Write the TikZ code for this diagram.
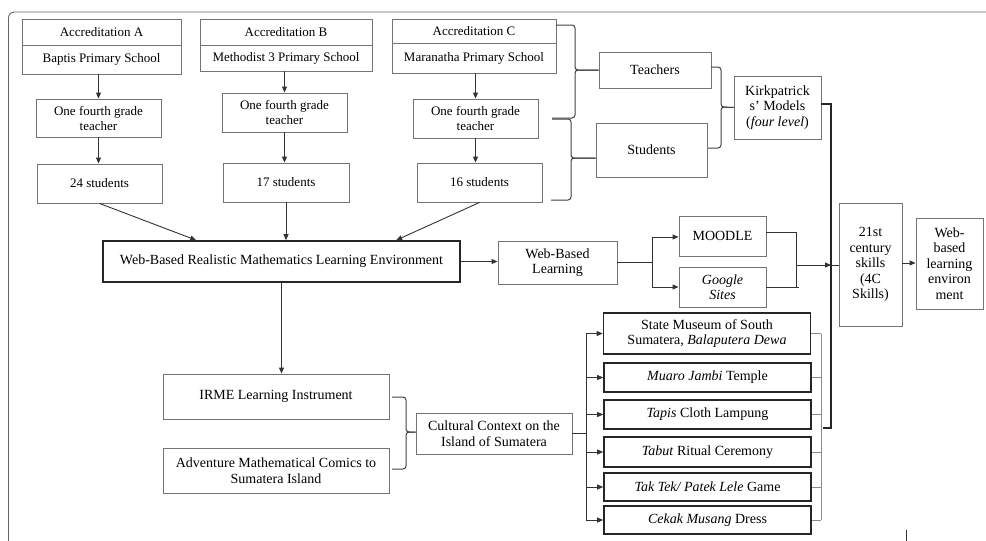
\documentclass[tikz,border=0pt]{standalone}
\usepackage{fontspec}
\setmainfont{Liberation Serif}
\usetikzlibrary{arrows.meta,calc}
\begin{document}
\begin{tikzpicture}[x=1pt,y=-1pt,
  every node/.style={font=\fontsize{14}{15.5}\selectfont, text=black},
  bx/.style={draw=black!55, line width=0.9pt, inner sep=0pt, align=center},
  small/.style={font=\fontsize{13}{15}\selectfont},
  thk/.style={draw=black!85, line width=1.6pt, inner sep=0pt, align=center},
  arr/.style={draw=black!80, line width=0.9pt, -{Triangle[length=6pt,width=5pt]}},
  ln/.style={draw=black!80, line width=0.9pt},
  gln/.style={draw=black!45, line width=0.9pt},
  brc/.style={draw=black!75, line width=1pt, rounded corners=3pt}]
\useasboundingbox (0,0) rectangle (986,541);
% frame
\draw[black!60, line width=0.9pt, rounded corners=6pt] (8.5,541) -- (8.5,12) -- (986,12);
\coordinate (tickA) at (906,530);
\coordinate (tickB) at (906,541);
\draw[black!80, line width=0.8pt] (tickA) -- (tickB);
% accreditation columns
\node[bx, small, minimum width=159, minimum height=26] (accAt) at (101.5,32) {Accreditation A};
\node[bx, small, minimum width=159, minimum height=29] (accAb) at (101.5,59.5) {Baptis Primary School};
\node[bx, small, minimum width=172, minimum height=26] (accBt) at (286,32) {Accreditation B};
\node[bx, small, minimum width=172, minimum height=26] (accBb) at (286,58) {Methodist 3 Primary School};
\node[bx, small, minimum width=164, minimum height=24] (accCt) at (474,31) {Accreditation C};
\node[bx, small, minimum width=164, minimum height=30] (accCb) at (474,58) {Maranatha Primary School};
\node[bx, small, minimum width=125, minimum height=38] (teachA) at (98.5,118) {One fourth grade\\teacher};
\node[bx, small, minimum width=125, minimum height=39] (teachB) at (284.5,112.5) {One fourth grade\\teacher};
\node[bx, small, minimum width=125, minimum height=39] (teachC) at (475.5,118.5) {One fourth grade\\teacher};
\node[bx, small, minimum width=125, minimum height=39] (studA) at (99.5,183.5) {24 students};
\node[bx, small, minimum width=126, minimum height=39] (studB) at (286,182.5) {17 students};
\node[bx, small, minimum width=125, minimum height=39] (studC) at (479.5,182.5) {16 students};
\draw[arr] (teachA.north |- accAb.south) -- (teachA.north);
\draw[arr] (teachB.north |- accBb.south) -- (teachB.north);
\draw[arr] (teachC.north |- accCb.south) -- (teachC.north);
\draw[arr] (teachA.south) -- (teachA.south |- studA.north);
\draw[arr] (teachB.south) -- (teachB.south |- studB.north);
\draw[arr] (teachC.south) -- (teachC.south |- studC.north);
% teachers / students / Kirkpatrick
\node[bx, minimum width=112, minimum height=36] (teachers) at (655,70) {Teachers};
\node[bx, minimum width=111, minimum height=54] (students) at (651.5,150) {Students};
\node[bx, minimum width=87, minimum height=63] (kirk) at (777.5,107.5) {Kirkpatrick\\s’ Models\\(\textit{four level})};
\coordinate (b1t) at (556,25);
\coordinate (b1b) at (552,118);
\draw[brc] (b1t) -- (575,25) -- (575,70) -- (teachers.west);
\draw[brc] (teachers.west) -- (575,70) -- (575,118) -- (b1b);
\coordinate (b2t) at (552,119);
\coordinate (b2b) at (551,200);
\draw[brc] (b2t) -- (571,119) -- (571,158) -- (students.west |- 0,158);
\draw[brc] (students.west |- 0,158) -- (571,158) -- (571,200) -- (b2b);
\coordinate (b3t) at (711,67);
\coordinate (b3b) at (708,148);
\draw[brc] (b3t) -- (721,67) -- (721,107) -- (kirk.west);
\draw[brc] (kirk.west) -- (721,107) -- (721,148) -- (b3b);
% main box
\node[thk, minimum width=357, minimum height=41] (main) at (281.5,261.5) {Web-Based Realistic Mathematics Learning Environment};
\draw[arr] (studA.south) -- ($(main.north west)+(94,0)$);
\draw[arr] (studB.south) -- (studB.south |- main.north);
\draw[arr] (studC.south) -- ($(main.north west)+(294,0)$);
\node[bx, minimum width=119, minimum height=43] (wbl) at (557.5,262.5) {Web-Based\\Learning};
\draw[arr] (main.east) -- (main.east -| wbl.west);
\node[bx, minimum width=87, minimum height=40] (moodle) at (722.5,236) {MOODLE};
\node[bx, minimum width=87, minimum height=40] (google) at (722.5,287) {\textit{Google}\\\textit{Sites}};
\coordinate (fk) at (652,262);
\draw[ln] (wbl.east |- fk) -- (fk);
\draw[ln] (652,237) -- (652,287);
\draw[arr] (652,237) -- (moodle.west |- 0,237);
\draw[arr] (652,287) -- (google.west |- 0,287);
\node[bx, minimum width=63, minimum height=123] (c21) at (870.5,264.5) {21st\\century\\skills\\(4C\\Skills)};
\node[bx, minimum width=67, minimum height=91] (wble) at (949.5,263.5) {Web-\\based\\learning\\environ\\ment};
\draw[ln] (moodle.east |- 0,232) -- (796,232) -- (796,287);
\draw[ln] (google.east) -- (799,287);
\coordinate (jn) at (831,265);
\draw[arr] (796,265) -- (jn);
\draw[ln] (jn) -- (c21.west |- jn);
\draw[arr] (c21.east |- 0,263) -- (wble.west |- 0,263);
% Kirkpatrick line down
\draw[ln, black!85, line width=1.1pt] (kirk.east |- 0,104) -- (831,104) -- (831,428) -- (823,428);
% lower left
\node[bx, minimum width=226, minimum height=45] (irme) at (276,396.5) {IRME Learning Instrument};
\node[bx, minimum width=226, minimum height=45] (adv) at (276,470.5) {Adventure Mathematical Comics to\\Sumatera Island};
\node[bx, minimum width=156, minimum height=41] (cult) at (494,433.5) {Cultural Context on the\\Island of Sumatera};
\draw[arr] (main.south) -- (main.south |- irme.north);
\coordinate (b4t) at (392,397);
\coordinate (b4b) at (392,469);
\draw[brc] (b4t) -- (406,397) -- (406,432) -- (cult.west |- 0,432);
\draw[brc] (cult.west |- 0,432) -- (406,432) -- (406,469) -- (b4b);
% cultural boxes
\node[thk, minimum width=207, minimum height=41] (museum) at (707,333.5) {State Museum of South\\Sumatera, \textit{Balaputera Dewa}};
\node[thk, minimum width=207, minimum height=29] (muaro) at (707.5,377.5) {\textit{Muaro Jambi} Temple};
\node[thk, minimum width=207, minimum height=29] (tapis) at (707.5,414.5) {\textit{Tapis} Cloth Lampung};
\node[thk, minimum width=207, minimum height=30] (tabut) at (707.5,452) {\textit{Tabut} Ritual Ceremony};
\node[thk, minimum width=207, minimum height=28] (taktek) at (707.5,487) {\textit{Tak Tek/ Patek Lele} Game};
\node[thk, minimum width=207, minimum height=28] (cekak) at (707.5,520) {\textit{Cekak Musang} Dress};
\coordinate (lc) at (586,433.5);
\draw[ln] (cult.east) -- (lc);
\draw[ln] (586,333.5) -- (586,520);
\foreach \n in {museum,muaro,tapis,tabut,taktek,cekak}{
  \draw[arr] (586,0 |- \n.west) -- (\n.west);
  \draw[gln] (\n.east) -- (821,0 |- \n.east);
}
\draw[gln] (821,333.5) -- (821,520);
\end{tikzpicture}
\end{document}
